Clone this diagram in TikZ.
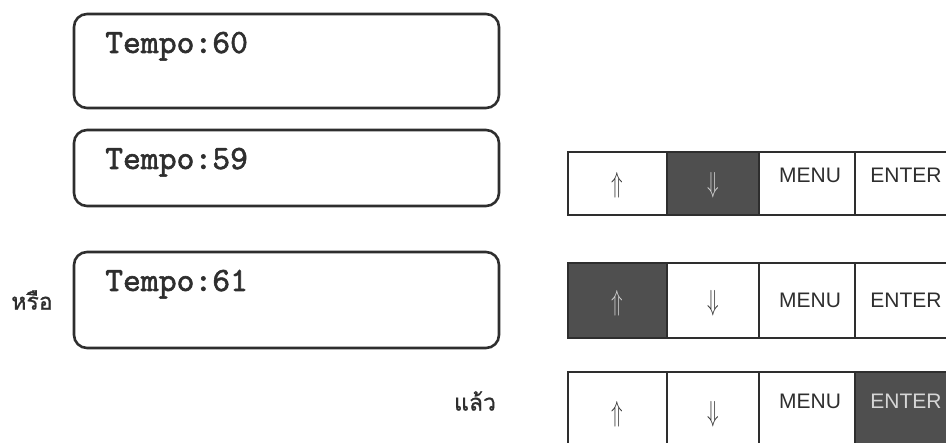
\documentclass[tikz,border=0pt]{standalone}
\usepackage{fontspec}
\setmainfont{Liberation Sans}
\newfontfamily\thaifont[Script=Thai, FakeBold=1]{Loma}
\newfontfamily\monof[FakeBold=1.6]{lmmono10-regular.otf}
\definecolor{ink}{HTML}{2E2E2E}
\definecolor{darkcell}{HTML}{4F4F4F}
\definecolor{lighttxt}{HTML}{D6D6D6}
\tikzset{
  display/.style={draw=ink, line width=2.6pt, rounded corners=13pt},
  dtext/.style={anchor=base west, inner sep=0pt, font=\monof\fontsize{34}{34}\selectfont, text=ink},
  cell/.style={draw=ink, line width=2.6pt, fill=white, inner sep=0pt},
  dcell/.style={cell, fill=darkcell},
  ktext/.style={inner sep=0pt, font=\fontsize{21}{21}\selectfont, text=ink},
  atext/.style={inner sep=0pt, text=ink},
  thtext/.style={inner sep=0pt, font=\thaifont\fontsize{23}{23}\selectfont, text=ink}
}
\newcommand{\upar}{\scalebox{1.9}[2.9]{$\Uparrow$}}
\newcommand{\dnar}{\scalebox{1.9}[2.9]{$\Downarrow$}}
\begin{document}
\begin{tikzpicture}[x=1pt,y=-1pt]
\useasboundingbox (0,0) rectangle (946,443);
\clip (0,0) rectangle (946,443);
% displays
\node[display, minimum width=425pt, minimum height=94pt] (d1) at (286.5,61) {};
\node[display, minimum width=425pt, minimum height=76pt] (d2) at (286.5,168) {};
\node[display, minimum width=425pt, minimum height=96pt] (d3) at (286.5,300) {};
\node[dtext] (t1) at (105,53) {Tempo:60};
\node[dtext] (t2) at (105,169) {Tempo:59};
\node[dtext] (t3) at (105,291) {Tempo:61};
% row 1
\node[cell, minimum width=99pt, minimum height=63pt] (r1a) at (617.5,183.5) {};
\node[dcell, minimum width=92pt, minimum height=63pt] (r1b) at (713,183.5) {};
\node[cell, minimum width=96pt, minimum height=63pt] (r1c) at (807,183.5) {};
\node[cell, minimum width=95pt, minimum height=63pt] (r1d) at (902.5,183.5) {};
\node[atext] (l1a) at (617.5,185) {\upar};
\node[atext, text=lighttxt] (l1b) at (713,185) {\dnar};
\node[ktext] (l1c) at (810,175) {MENU};
\node[ktext] (l1d) at (906,175) {ENTER};
% row 2
\node[dcell, minimum width=99pt, minimum height=75pt] (r2a) at (617.5,300.5) {};
\node[cell, minimum width=92pt, minimum height=75pt] (r2b) at (713,300.5) {};
\node[cell, minimum width=96pt, minimum height=75pt] (r2c) at (807,300.5) {};
\node[cell, minimum width=95pt, minimum height=75pt] (r2d) at (902.5,300.5) {};
\node[atext, text=lighttxt] (l2a) at (617.5,303) {\upar};
\node[atext] (l2b) at (713,303) {\dnar};
\node[ktext] (l2c) at (810,300) {MENU};
\node[ktext] (l2d) at (906,300) {ENTER};
% row 3
\node[cell, minimum width=99pt, minimum height=75pt] (r3a) at (617.5,409.5) {};
\node[cell, minimum width=92pt, minimum height=75pt] (r3b) at (713,409.5) {};
\node[cell, minimum width=96pt, minimum height=75pt] (r3c) at (807,409.5) {};
\node[dcell, minimum width=95pt, minimum height=75pt] (r3d) at (902.5,409.5) {};
\node[atext] (l3a) at (617.5,414) {\upar};
\node[atext] (l3b) at (713,414) {\dnar};
\node[ktext] (l3c) at (810,401) {MENU};
\node[ktext, text=lighttxt] (l3d) at (906,401) {ENTER};
% Thai labels
\node[thtext] (or) at (32,300) {หรือ};
\node[thtext] (then) at (475,401) {แล้ว};
\end{tikzpicture}
\end{document}
